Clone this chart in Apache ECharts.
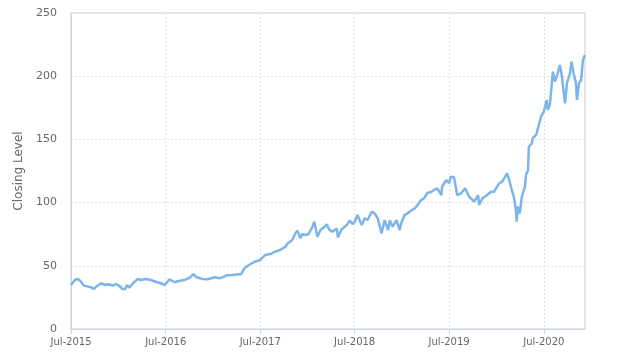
<!DOCTYPE html>
<html>
<head>
<meta charset="utf-8">
<script src="https://cdn.jsdelivr.net/npm/echarts@6/dist/echarts.min.js"></script>
<style>
html,body{margin:0;padding:0;background:#fff;}
#chart{width:624px;height:362px;}
</style>
</head>
<body>
<div id="chart"></div>
<script>
var dates = [
'2015-07-01','2015-07-16','2015-07-28','2015-08-09','2015-08-20','2015-09-05','2015-09-17','2015-09-28','2015-10-06','2015-10-25',
'2015-11-10','2015-11-22','2015-12-10','2015-12-22','2016-01-07','2016-01-15','2016-01-26','2016-02-03','2016-02-11','2016-02-26',
'2016-03-15','2016-03-26','2016-04-15','2016-05-04','2016-05-24','2016-06-12','2016-06-27',
'2016-07-08','2016-07-15','2016-08-05','2016-08-24','2016-09-13','2016-10-02','2016-10-16','2016-10-28','2016-11-21','2016-12-10',
'2017-01-07','2017-01-26','2017-02-22','2017-03-15','2017-04-19','2017-05-01','2017-05-19','2017-06-09','2017-07-01',
'2017-07-20','2017-08-09','2017-08-28','2017-09-16','2017-10-06','2017-10-16','2017-11-02','2017-11-14','2017-11-22','2017-12-03',
'2017-12-10','2017-12-22','2018-01-03','2018-01-19','2018-01-26','2018-02-07','2018-02-19','2018-03-07','2018-03-15','2018-03-26',
'2018-04-06','2018-04-23','2018-04-27','2018-05-12','2018-06-01','2018-06-12','2018-06-24',
'2018-07-01','2018-07-12','2018-07-28','2018-08-09','2018-08-20','2018-09-05','2018-09-16','2018-09-28','2018-10-13','2018-10-25',
'2018-11-07','2018-11-14','2018-11-25','2018-12-10','2018-12-22','2018-12-28','2019-01-10','2019-01-22','2019-02-07','2019-02-19',
'2019-03-01','2019-03-15','2019-03-26','2019-04-07','2019-04-23','2019-05-04','2019-05-16','2019-06-01','2019-06-04','2019-06-20',
'2019-07-01','2019-07-08','2019-07-20','2019-08-01','2019-08-16','2019-09-01','2019-09-16','2019-10-06','2019-10-21','2019-10-25',
'2019-11-07','2019-11-25','2019-12-10','2019-12-22','2020-01-10','2020-01-22','2020-02-10','2020-02-18','2020-03-01','2020-03-07',
'2020-03-15','2020-03-18','2020-03-22','2020-03-30','2020-04-07','2020-04-19','2020-04-23','2020-05-01','2020-05-04','2020-05-16',
'2020-05-19','2020-06-01','2020-06-09','2020-06-20','2020-07-01','2020-07-12','2020-07-16','2020-07-24','2020-08-01','2020-08-05',
'2020-08-13','2020-08-20','2020-09-01','2020-09-09','2020-09-13','2020-09-21','2020-09-28','2020-10-10','2020-10-16','2020-10-24',
'2020-11-02','2020-11-06','2020-11-14','2020-11-22','2020-11-29','2020-12-07'
];
var closing = [
34.8,38.8,39.6,37.4,34.3,33.5,32.9,31.6,33.5,36.2,
34.8,35.4,34.3,35.6,33.5,31.6,31.6,34.8,32.7,36.2,
39.6,38.8,39.6,38.8,37.4,36.2,34.8,
37.4,39.3,37.0,38.2,38.8,40.6,43.5,40.9,39.6,39.3,
40.9,40.1,42.5,42.7,43.5,48.0,50.6,53.2,54.6,
58.5,59.3,61.2,62.5,65.0,67.8,70.4,75.7,77.8,71.7,
75.2,74.4,74.9,80.9,84.9,73.0,78.3,80.9,82.8,78.3,
77.0,79.6,72.5,78.9,82.3,85.7,83.0,
84.9,90.2,82.3,87.6,86.2,92.8,91.5,87.6,75.7,86.2,
78.3,86.0,80.9,86.2,78.3,83.6,90.2,91.5,94.1,95.5,
98.1,102.0,103.4,107.4,108.6,110.0,111.3,106.0,112.6,117.9,
115.3,120.5,120.0,106.0,107.4,111.3,104.7,100.7,106.0,98.1,
103.4,106.0,108.6,108.6,115.3,116.5,123.2,117.9,108.6,104.7,
94.1,84.9,96.8,91.5,104.7,112.6,121.8,125.8,144.2,146.9,
150.9,153.5,159.4,168.0,171.9,181.2,173.3,177.2,194.4,203.6,
195.8,199.7,208.9,199.7,191.8,178.5,194.4,202.3,211.5,202.3,
194.4,181.2,194.4,197.0,212.8,216.8
];
var xTicks = ['2015-07-01','2016-07-01','2017-07-01','2018-07-01','2019-07-01','2020-07-01'];
var yTicks = [0,50,100,150,200,250];
var yName = 'Closing Level';
var monthNames = ['Jan','Feb','Mar','Apr','May','Jun','Jul','Aug','Sep','Oct','Nov','Dec'];

function ts(s){var p=s.split('-');return Date.UTC(+p[0],+p[1]-1,+p[2]);}
var seriesData = dates.map(function(d,i){return [ts(d), closing[i]];});
var tickVals = xTicks.map(ts);
var chart = echarts.init(document.getElementById('chart'), null, {renderer:'canvas'});
var FONT = 'DejaVu Sans';
chart.setOption({
  animation:false,
  backgroundColor:'#ffffff',
  grid:{left:71,right:39,top:13,bottom:33,show:true,borderColor:'#cccccc',borderWidth:1,backgroundColor:'transparent'},
  xAxis:{
    type:'value',
    min:tickVals[0],
    max:ts(dates[dates.length-1]),
    axisLine:{show:true,lineStyle:{color:'#ccd6eb',width:1}},
    axisTick:{show:true,length:5,lineStyle:{color:'#ccd6eb'},customValues:tickVals},
    splitLine:{show:true,lineStyle:{color:'#dde3ec',type:[2,2],width:1}},
    axisLabel:{
      customValues:tickVals,
      color:'#666666',fontFamily:FONT,fontSize:10,margin:8,
      formatter:function(v){var d=new Date(v);return monthNames[d.getUTCMonth()]+'-'+d.getUTCFullYear();}
    }
  },
  yAxis:{
    type:'value',
    min:yTicks[0],max:yTicks[yTicks.length-1],interval:50,
    name:yName,nameLocation:'middle',nameGap:42,
    nameTextStyle:{color:'#666666',fontFamily:FONT,fontSize:12},
    axisLine:{show:true,lineStyle:{color:'#ccd6eb',width:1}},
    axisTick:{show:false},
    splitLine:{show:true,lineStyle:{color:'#e0e0e0',type:[2,2],width:1}},
    axisLabel:{color:'#666666',fontFamily:FONT,fontSize:11,margin:14}
  },
  series:[{
    type:'line',
    data:seriesData,
    showSymbol:false,
    symbol:'none',
    lineStyle:{color:'#7cb5ec',width:2.5},
    itemStyle:{color:'#7cb5ec'}
  }]
});
</script>
</body>
</html>
